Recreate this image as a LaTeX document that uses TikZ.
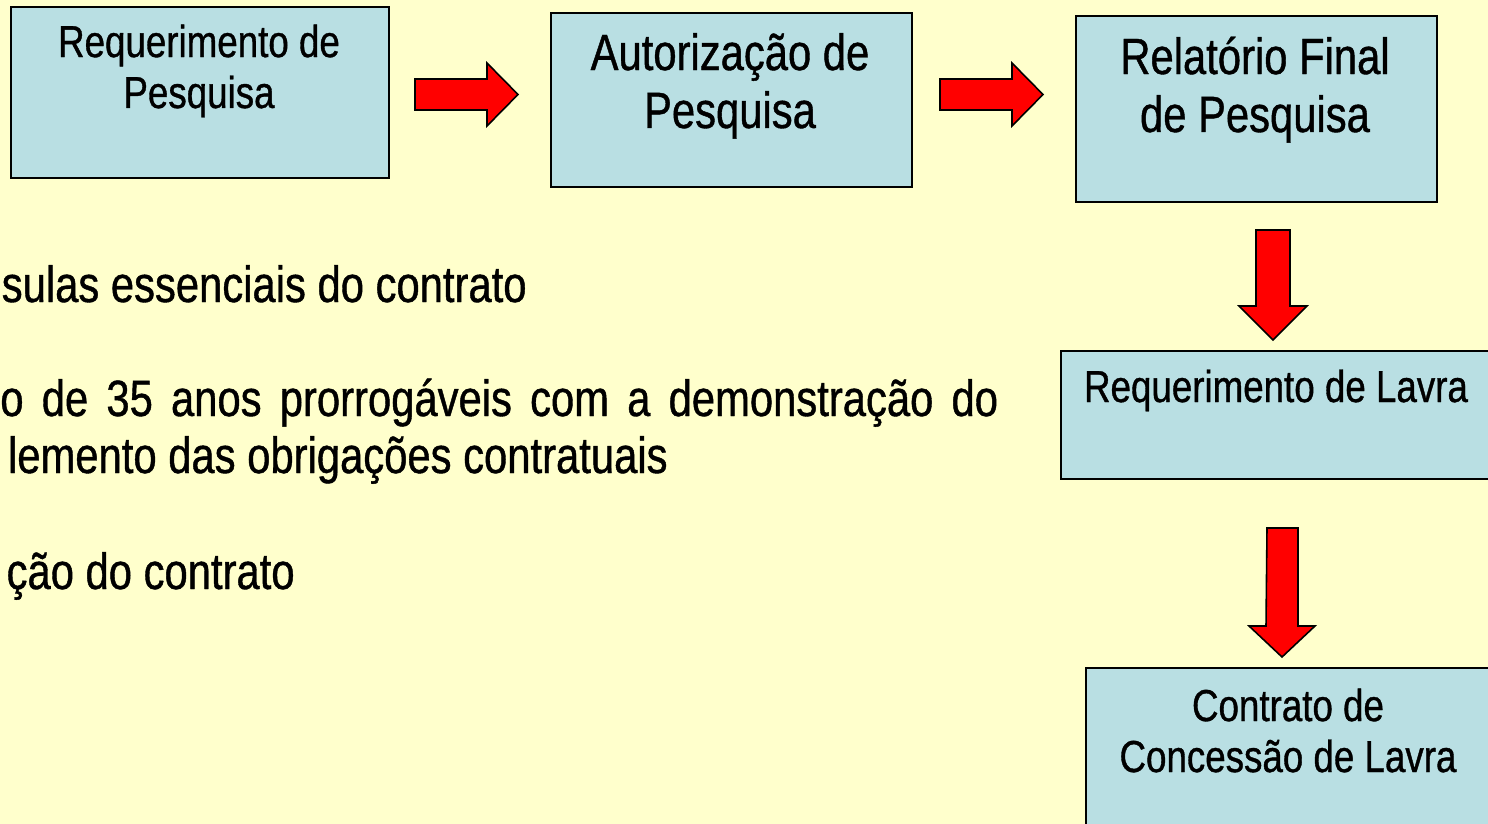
\documentclass[tikz,border=0pt]{standalone}
\usepackage{fontspec}
\setmainfont{Liberation Sans}[FakeStretch=0.82, FakeBold=0.8]
\definecolor{bgyellow}{RGB}{255,255,204}
\definecolor{boxblue}{RGB}{185,223,227}
\definecolor{arrred}{RGB}{255,0,0}
\begin{document}
\begin{tikzpicture}[x=0.02cm,y=-0.02cm,
  box/.style={draw=black, fill=boxblue, line width=0.9pt, anchor=north west, inner sep=0pt},
  small/.style={font=\fontsize{25.5}{29}\selectfont, align=center, inner sep=0pt, anchor=base},
  large/.style={font=\fontsize{29}{33}\selectfont, align=center, inner sep=0pt, anchor=base},
  body/.style={font=\fontsize{29}{32.4}\selectfont, inner sep=0pt},
  blockarrow/.style={draw=black, fill=arrred, line width=0.9pt, line join=miter}]
\fill[bgyellow] (0,0) rectangle (1488,824);
\clip (0,0) rectangle (1488,824);
\useasboundingbox (0,0) rectangle (1488,824);

% boxes
\node[box, minimum width=7.56cm, minimum height=3.42cm] (b1) at (10,6) {};
\node[box, minimum width=7.22cm, minimum height=3.48cm] (b2) at (550,12) {};
\node[box, minimum width=7.22cm, minimum height=3.72cm] (b3) at (1075,15) {};
\node[box, minimum width=8.8cm, minimum height=2.56cm] (b4) at (1060,350) {};
\node[box, minimum width=8.3cm, minimum height=3.46cm] (b5) at (1085,667) {};

% box texts (base anchor = baseline of last line)
\node[small] (t1) at (199,108) {Requerimento de\\Pesquisa};
\node[large] (t2) at (730,128) {Autorização de\\Pesquisa};
\node[large] (t3) at (1255,132) {Relatório Final\\de Pesquisa};
\node[small] (t4) at (1276,402) {Requerimento de Lavra};
\node[small] (t5) at (1288,772) {Contrato de\\Concessão de Lavra};

% block arrows (right)
\coordinate (a1) at (415,94.5);
\coordinate (a2) at (940,94.5);
\foreach \c in {a1,a2}{
  \draw[blockarrow] (\c) ++(0,-15.5) -- ++(72,0) -- ++(0,-16) -- ++(31,31.5) -- ++(-31,31.5) -- ++(0,-16) -- ++(-72,0) -- cycle;
}
% block arrows (down)
\coordinate (a3) at (1273,230);
\draw[blockarrow] (a3) ++(-17,0) -- ++(34,0) -- ++(0,76) -- ++(17,0) -- ++(-34,34) -- ++(-34,-34) -- ++(17,0) -- cycle;
\coordinate (a4) at (1282.5,528);
\draw[blockarrow] (a4) ++(-15.5,0) -- ++(31,0) -- ++(0,98) -- ++(17,0) -- ++(-33,31) -- ++(-33,-31) -- ++(17,0) -- cycle;

% body text
\node[body, anchor=base east] (p1) at (527,302) {sulas essenciais do contrato};
\node[body, anchor=base west] (p2) at (0,416) {\makebox[19.96cm][s]{o de 35 anos prorrogáveis com a demonstração do}};
\node[body, anchor=base east] (p3) at (668,473) {lemento das obrigações contratuais};
\node[body, anchor=base east] (p4) at (295,589) {ção do contrato};
\end{tikzpicture}
\end{document}
